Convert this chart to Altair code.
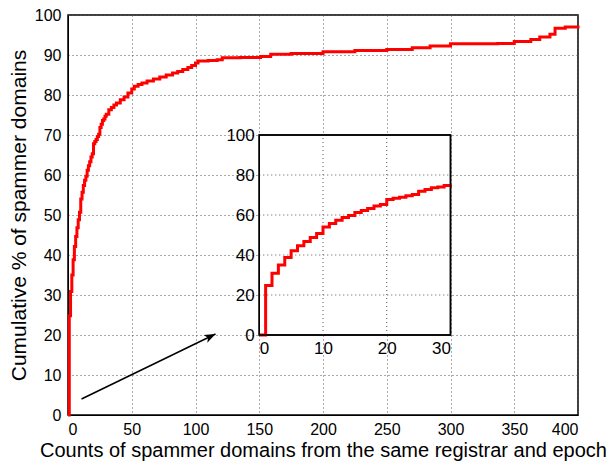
import altair as alt
import pandas as pd

# ---- data ----
counts = [0, 1, 2, 3, 4, 5, 6, 7, 8, 9, 10, 11, 12, 13, 14, 15, 16, 17, 18, 19, 20,
          21, 22, 23, 24, 25, 26, 27, 28, 29, 30,
          32, 34, 36, 38, 41, 44, 47, 50, 52, 55, 58, 62, 67, 72, 77, 82, 86, 90,
          94, 97, 100, 102, 110, 117, 121, 135, 151, 159, 175, 200, 225, 250, 270,
          284, 300, 320, 337, 350, 363, 370, 378, 382, 390, 400]
cum_pct = [0, 24.8, 30.9, 35.0, 38.8, 42.1, 44.6, 46.8, 48.8, 50.7, 54.0, 55.7, 57.4,
           58.7, 59.7, 61.2, 62.3, 63.3, 64.5, 65.3, 67.8,
           68.4, 68.9, 69.6, 70.2, 71.9, 72.7, 73.6, 74.0, 74.7, 75.2,
           76.3, 76.9, 77.5, 78.0, 78.8, 79.5, 80.5, 81.5, 82.2, 82.6, 83.0, 83.5,
           84.0, 84.5, 85.0, 85.5, 85.9, 86.4, 86.9, 87.4, 88.0, 88.5, 88.6, 88.8,
           89.3, 89.4, 89.6, 90.2, 90.4, 90.8, 91.1, 91.4, 91.8, 92.25, 92.8, 92.8,
           92.9, 93.4, 93.9, 94.5, 95.2, 96.7, 97.0, 97.4]

main_x_ticks = [0, 50, 100, 150, 200, 250, 300, 350, 400]
main_y_ticks = [0, 10, 20, 30, 40, 50, 60, 70, 80, 90, 100]
inset_x_ticks = [0, 10, 20, 30]
inset_y_ticks = [0, 20, 40, 60, 80, 100]
inset_limit = 30

arrow_start = [10.6, 4.0]
arrow_end = [115.7, 20.25]

X_TITLE = "Counts of spammer domains from the same registrar and epoch"
Y_TITLE = "Cumulative % of spammer domains"

FONT = "Liberation Sans"
W, H = 510, 400

df = pd.DataFrame({"x": counts, "y": cum_pct})
inset_df = pd.DataFrame({"ix": [c for c in counts if c <= inset_limit],
                         "iy": [p for c, p in zip(counts, cum_pct) if c <= inset_limit]})

# ---- main chart ----
x_scale = alt.Scale(domain=[0, 400], nice=False, zero=False)
y_scale = alt.Scale(domain=[0, 100], nice=False, zero=False)
x_axis = alt.Axis(values=main_x_ticks, grid=True, gridDash=[1, 3],
                  gridColor="#555555", ticks=False, labelFontSize=16,
                  labelFont=FONT, labelColor="black", labelPadding=6,
                  labelOverlap=False, labelSeparation=0, labelBound=False,
                  domainColor="black", title=X_TITLE, titleFont=FONT,
                  titleFontSize=20, titleFontWeight="normal",
                  titleColor="black", titlePadding=3)
y_axis = alt.Axis(values=main_y_ticks, tickCount=11, grid=True, gridDash=[1, 3],
                  gridColor="#555555", ticks=False, labelFontSize=16,
                  labelFont=FONT, labelColor="black", labelPadding=7,
                  labelOverlap=False, labelSeparation=0, labelBound=False,
                  domainColor="black", title=Y_TITLE, titleFont=FONT,
                  titleFontSize=21, titleFontWeight="normal",
                  titleColor="black", titlePadding=5)

main_line = alt.Chart(df).mark_line(interpolate="step-after", color="#ff0000",
                                    strokeWidth=3).encode(
    x=alt.X("x:Q", scale=x_scale, axis=x_axis),
    y=alt.Y("y:Q", scale=y_scale, axis=y_axis))

arrow_df = pd.DataFrame({"x": [arrow_start[0]], "y": [arrow_start[1]],
                         "x2": [arrow_end[0]], "y2": [arrow_end[1]]})
arrow_line = alt.Chart(arrow_df).mark_rule(color="black", strokeWidth=1.5).encode(
    x=alt.X("x:Q", scale=x_scale, axis=x_axis),
    y=alt.Y("y:Q", scale=y_scale, axis=y_axis),
    x2="x2:Q", y2="y2:Q")
head_df = pd.DataFrame({"x": [arrow_end[0]], "y": [arrow_end[1]]})
arrow_head = alt.Chart(head_df).mark_point(
    shape="M0,0 L-1,-0.38 L-0.75,0 L-1,0.38 Z", filled=True, color="black",
    opacity=1, size=500, angle=334).encode(
    x=alt.X("x:Q", scale=x_scale, axis=x_axis),
    y=alt.Y("y:Q", scale=y_scale, axis=y_axis))

main_layer = alt.layer(main_line, arrow_line, arrow_head)

# ---- inset ----
ix_scale = alt.Scale(domain=[0, 30], range=[150 * W / 400, 300 * W / 400], nice=False, zero=False)
iy_scale = alt.Scale(domain=[0, 100], range=[H - 20 * H / 100, H - 70 * H / 100], nice=False)

inset_bg_df = pd.DataFrame({"x0": [0], "x1": [30], "y0": [0], "y1": [100]})
inset_bg = alt.Chart(inset_bg_df).mark_rect(fill="white", stroke="black",
                                            strokeWidth=1.5).encode(
    x=alt.X("x0:Q", scale=ix_scale,
            axis=alt.Axis(orient="bottom", offset=-(20 * H / 100), values=inset_x_ticks,
                          grid=False, ticks=False, labelFontSize=17, labelFont=FONT,
                          labelColor="black", labelPadding=5, domain=False, title=None,
                          labelOverlap=False)),
    x2="x1:Q",
    y=alt.Y("y0:Q", scale=iy_scale,
            axis=alt.Axis(orient="left", offset=-(150 * W / 400), values=inset_y_ticks,
                          grid=False, ticks=False, labelFontSize=17, labelFont=FONT,
                          labelColor="black", labelPadding=5, domain=False, title=None,
                          labelOverlap=False)),
    y2="y1:Q")

vgrid = alt.Chart(pd.DataFrame({"g": inset_x_ticks[1:-1]})).mark_rule(
    color="#555555", strokeDash=[1, 3], strokeWidth=1).encode(
    x="g:Q", y=alt.datum(0), y2=alt.datum(100))
hgrid = alt.Chart(pd.DataFrame({"g": inset_y_ticks[1:-1]})).mark_rule(
    color="#555555", strokeDash=[1, 3], strokeWidth=1).encode(
    y="g:Q", x=alt.datum(0), x2=alt.datum(30))

inset_line = alt.Chart(inset_df).mark_line(interpolate="step-after", color="#ff0000",
                                           strokeWidth=3).encode(x="ix:Q", y="iy:Q")

inset_frame = alt.Chart(inset_bg_df).mark_rect(fill=None, stroke="black",
                                               strokeWidth=1.5).encode(
    x="x0:Q", x2="x1:Q", y="y0:Q", y2="y1:Q")

inset_layer = alt.layer(inset_bg, vgrid, hgrid, inset_line, inset_frame)

chart = alt.layer(main_layer, inset_layer).resolve_scale(
    x="independent", y="independent"
).properties(
    width=W, height=H,
    autosize=alt.AutoSizeParams(type="none"),
    padding={"left": 60, "top": 7, "right": 30, "bottom": 50},
    background="white",
).configure_view(stroke="black", strokeWidth=1.5)

chart.save("out.html", embed_options={"renderer": "svg", "actions": False})
